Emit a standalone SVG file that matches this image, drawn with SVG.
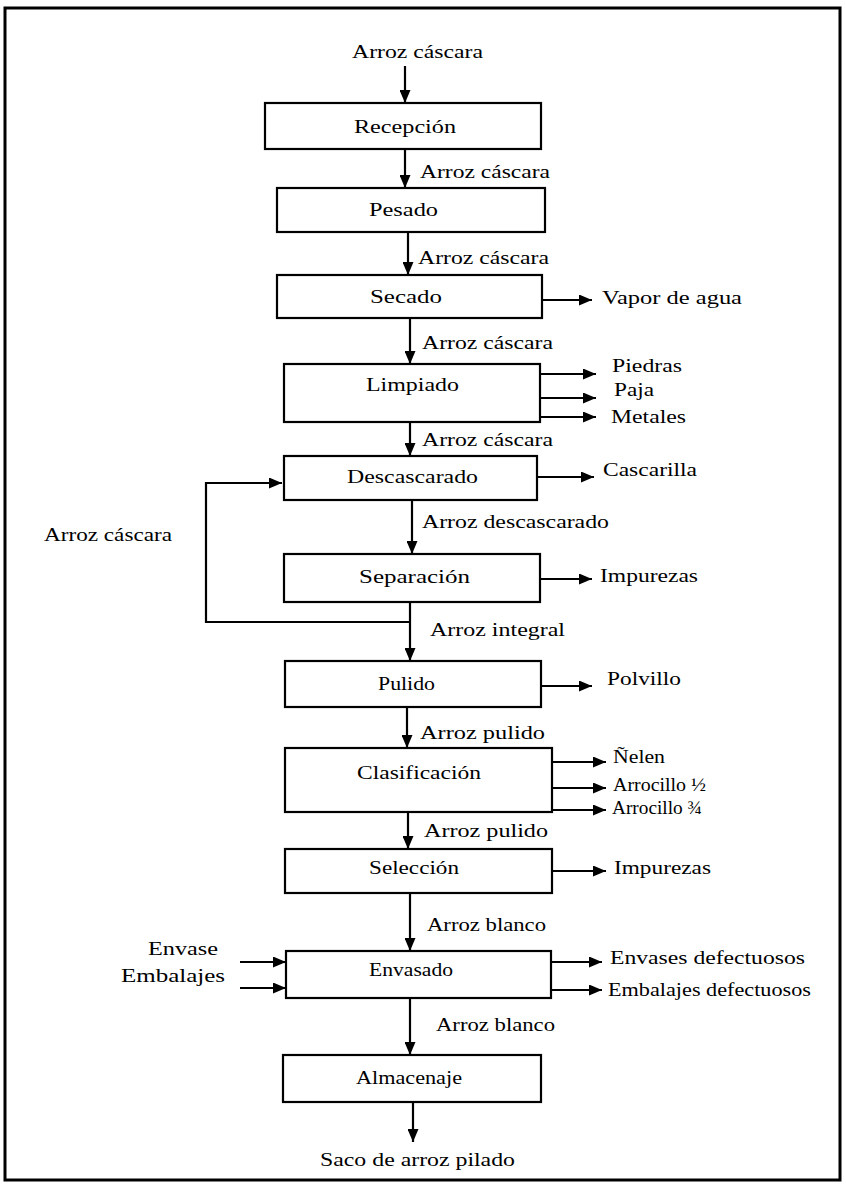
<svg xmlns="http://www.w3.org/2000/svg" width="846" height="1184" viewBox="0 0 846 1184">
  <style>
    .box { fill: #ffffff; stroke: #000000; stroke-width: 2.2; }
    .frame { fill: #ffffff; stroke: #000000; stroke-width: 3; }
    .link { fill: none; stroke: #000000; stroke-width: 2.2; marker-end: url(#arrow); }
    text { font-family: "Liberation Serif", "Times New Roman", serif; font-size: 19px; fill: #000000; }
  </style>
  <defs>
    <marker id="arrow" viewBox="0 0 13 11" refX="13" refY="5.5" markerWidth="13" markerHeight="11" markerUnits="userSpaceOnUse" orient="auto">
      <path d="M0,0 L13,5.5 L0,11 z" fill="#000000"/>
    </marker>
  </defs>

  <rect class="frame" x="5" y="8" width="835" height="1172"/>

  <!-- process steps -->
  <g id="recepcion">
    <rect class="box" x="265" y="103" width="276" height="46"/>
    <text x="354" y="133" textLength="102" lengthAdjust="spacingAndGlyphs">Recepción</text>
  </g>
  <g id="pesado">
    <rect class="box" x="277" y="188" width="268" height="44"/>
    <text x="369" y="216" textLength="69" lengthAdjust="spacingAndGlyphs">Pesado</text>
  </g>
  <g id="secado">
    <rect class="box" x="277" y="275" width="265" height="43"/>
    <text x="370" y="303" textLength="72" lengthAdjust="spacingAndGlyphs">Secado</text>
  </g>
  <g id="limpiado">
    <rect class="box" x="284" y="364" width="256" height="58"/>
    <text x="366" y="391" textLength="93" lengthAdjust="spacingAndGlyphs">Limpiado</text>
  </g>
  <g id="descascarado">
    <rect class="box" x="284" y="456" width="253" height="44"/>
    <text x="347" y="483" textLength="131" lengthAdjust="spacingAndGlyphs">Descascarado</text>
  </g>
  <g id="separacion">
    <rect class="box" x="284" y="554" width="256" height="48"/>
    <text x="359" y="583" textLength="111" lengthAdjust="spacingAndGlyphs">Separación</text>
  </g>
  <g id="pulido">
    <rect class="box" x="285" y="661" width="256" height="46"/>
    <text x="378" y="690" textLength="57" lengthAdjust="spacingAndGlyphs">Pulido</text>
  </g>
  <g id="clasificacion">
    <rect class="box" x="285" y="748" width="267" height="64"/>
    <text x="357" y="779" textLength="124" lengthAdjust="spacingAndGlyphs">Clasificación</text>
  </g>
  <g id="seleccion">
    <rect class="box" x="285" y="849" width="267" height="44"/>
    <text x="369" y="874" textLength="90" lengthAdjust="spacingAndGlyphs">Selección</text>
  </g>
  <g id="envasado">
    <rect class="box" x="286" y="951" width="265" height="47"/>
    <text x="369" y="976" textLength="84" lengthAdjust="spacingAndGlyphs">Envasado</text>
  </g>
  <g id="almacenaje">
    <rect class="box" x="283" y="1055" width="258" height="47"/>
    <text x="356" y="1084" textLength="106" lengthAdjust="spacingAndGlyphs">Almacenaje</text>
  </g>

  <!-- flow lines -->
  <g id="connectors">
    <line class="link" x1="405" y1="66" x2="405" y2="103"/>
    <line class="link" x1="405" y1="149" x2="405" y2="188"/>
    <line class="link" x1="408" y1="232" x2="408" y2="275"/>
    <line class="link" x1="410" y1="318" x2="410" y2="364"/>
    <line class="link" x1="410" y1="422" x2="410" y2="456"/>
    <line class="link" x1="412" y1="500" x2="412" y2="554"/>
    <line class="link" x1="410" y1="602" x2="410" y2="661"/>
    <line class="link" x1="407" y1="707" x2="407" y2="748"/>
    <line class="link" x1="408" y1="812" x2="408" y2="849"/>
    <line class="link" x1="410" y1="893" x2="410" y2="951"/>
    <line class="link" x1="410" y1="998" x2="410" y2="1055"/>
    <line class="link" x1="413" y1="1102" x2="413" y2="1142"/>
    <!-- recirculation of unhulled rice -->
    <polyline class="link" points="410,622 206,622 206,483 282,483"/>
    <!-- outputs -->
    <line class="link" x1="542" y1="300" x2="592" y2="300"/>
    <line class="link" x1="540" y1="374" x2="596" y2="374"/>
    <line class="link" x1="540" y1="398" x2="596" y2="398"/>
    <line class="link" x1="540" y1="417" x2="596" y2="417"/>
    <line class="link" x1="537" y1="477" x2="594" y2="477"/>
    <line class="link" x1="540" y1="579" x2="592" y2="579"/>
    <line class="link" x1="541" y1="686" x2="592" y2="686"/>
    <line class="link" x1="552" y1="762" x2="606" y2="762"/>
    <line class="link" x1="552" y1="788" x2="606" y2="788"/>
    <line class="link" x1="552" y1="810" x2="606" y2="810"/>
    <line class="link" x1="553" y1="871" x2="606" y2="871"/>
    <line class="link" x1="551" y1="962" x2="602" y2="962"/>
    <line class="link" x1="551" y1="990" x2="602" y2="990"/>
    <!-- inputs to packaging -->
    <line class="link" x1="240" y1="962" x2="286" y2="962"/>
    <line class="link" x1="240" y1="988" x2="286" y2="988"/>
  </g>

  <!-- stream labels -->
  <g id="labels">
    <text x="352" y="58" textLength="131" lengthAdjust="spacingAndGlyphs">Arroz cáscara</text>
    <text x="420" y="178" textLength="130" lengthAdjust="spacingAndGlyphs">Arroz cáscara</text>
    <text x="418" y="264" textLength="131" lengthAdjust="spacingAndGlyphs">Arroz cáscara</text>
    <text x="602" y="304" textLength="140" lengthAdjust="spacingAndGlyphs">Vapor de agua</text>
    <text x="422" y="349" textLength="131" lengthAdjust="spacingAndGlyphs">Arroz cáscara</text>
    <text x="612" y="372" textLength="70" lengthAdjust="spacingAndGlyphs">Piedras</text>
    <text x="614" y="396" textLength="40" lengthAdjust="spacingAndGlyphs">Paja</text>
    <text x="611" y="423" textLength="75" lengthAdjust="spacingAndGlyphs">Metales</text>
    <text x="422" y="446" textLength="131" lengthAdjust="spacingAndGlyphs">Arroz cáscara</text>
    <text x="603" y="476" textLength="94" lengthAdjust="spacingAndGlyphs">Cascarilla</text>
    <text x="44" y="541" textLength="128" lengthAdjust="spacingAndGlyphs">Arroz cáscara</text>
    <text x="422" y="528" textLength="187" lengthAdjust="spacingAndGlyphs">Arroz descascarado</text>
    <text x="600" y="582" textLength="98" lengthAdjust="spacingAndGlyphs">Impurezas</text>
    <text x="430" y="636" textLength="135" lengthAdjust="spacingAndGlyphs">Arroz integral</text>
    <text x="607" y="685" textLength="74" lengthAdjust="spacingAndGlyphs">Polvillo</text>
    <text x="420" y="739" textLength="125" lengthAdjust="spacingAndGlyphs">Arroz pulido</text>
    <text x="613" y="763" textLength="52" lengthAdjust="spacingAndGlyphs">Ñelen</text>
    <text x="613" y="791" textLength="93" lengthAdjust="spacingAndGlyphs">Arrocillo ½</text>
    <text x="612" y="814" textLength="90" lengthAdjust="spacingAndGlyphs">Arrocillo ¾</text>
    <text x="424" y="837" textLength="124" lengthAdjust="spacingAndGlyphs">Arroz pulido</text>
    <text x="614" y="874" textLength="97" lengthAdjust="spacingAndGlyphs">Impurezas</text>
    <text x="427" y="931" textLength="119" lengthAdjust="spacingAndGlyphs">Arroz blanco</text>
    <text x="148" y="955" textLength="70" lengthAdjust="spacingAndGlyphs">Envase</text>
    <text x="121" y="982" textLength="104" lengthAdjust="spacingAndGlyphs">Embalajes</text>
    <text x="610" y="964" textLength="195" lengthAdjust="spacingAndGlyphs">Envases defectuosos</text>
    <text x="608" y="996" textLength="203" lengthAdjust="spacingAndGlyphs">Embalajes defectuosos</text>
    <text x="436" y="1031" textLength="119" lengthAdjust="spacingAndGlyphs">Arroz blanco</text>
    <text x="320" y="1166" textLength="195" lengthAdjust="spacingAndGlyphs">Saco de arroz pilado</text>
  </g>
</svg>
